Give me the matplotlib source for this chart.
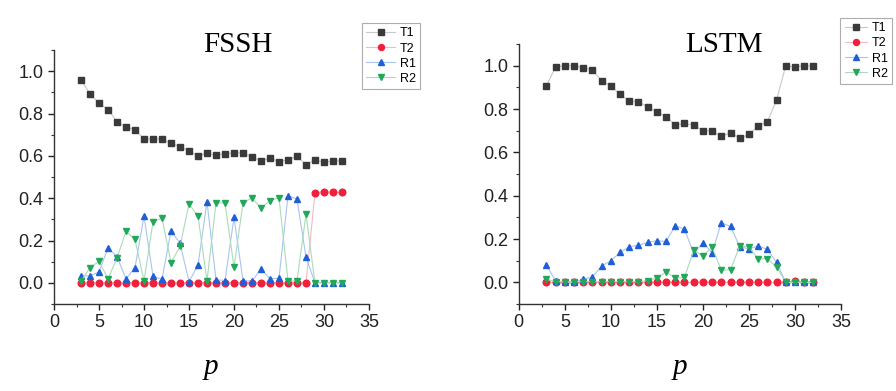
import matplotlib
matplotlib.use("Agg")
import matplotlib.pyplot as plt
from matplotlib.ticker import MultipleLocator

p = list(range(3, 33))

fssh_T1 = [0.959, 0.893, 0.849, 0.819, 0.761, 0.737, 0.724, 0.679, 0.679, 0.679,
           0.660, 0.644, 0.624, 0.600, 0.613, 0.603, 0.611, 0.614, 0.614, 0.594,
           0.578, 0.589, 0.573, 0.581, 0.597, 0.559, 0.581, 0.569, 0.576, 0.576]
fssh_T2 = [0.0] * 26 + [0.424, 0.431, 0.427, 0.427]
fssh_R1 = [0.033, 0.033, 0.052, 0.165, 0.123, 0.019, 0.072, 0.315, 0.031, 0.017,
           0.246, 0.187, 0.006, 0.083, 0.384, 0.014, 0.011, 0.309, 0.011, 0.008,
           0.066, 0.019, 0.022, 0.411, 0.397, 0.121, 0.0, 0.0, 0.0, 0.0]
fssh_R2 = [0.008, 0.072, 0.102, 0.019, 0.117, 0.244, 0.205, 0.009, 0.288, 0.306,
           0.096, 0.172, 0.373, 0.315, 0.009, 0.378, 0.378, 0.074, 0.378, 0.402,
           0.353, 0.389, 0.402, 0.009, 0.009, 0.324, 0.0, 0.0, 0.0, 0.0]

lstm_T1 = [0.908, 0.995, 1.0, 1.0, 0.992, 0.980, 0.931, 0.908, 0.868, 0.838,
           0.834, 0.811, 0.788, 0.765, 0.726, 0.734, 0.726, 0.700, 0.700, 0.674,
           0.691, 0.666, 0.683, 0.722, 0.742, 0.842, 1.0, 0.995, 1.0, 0.998]
lstm_T2 = [0.0] * 27 + [0.005, 0.0, 0.0]
lstm_R1 = [0.078, 0.008, 0.0, 0.0, 0.015, 0.025, 0.075, 0.100, 0.138, 0.165,
           0.171, 0.185, 0.192, 0.189, 0.262, 0.245, 0.134, 0.183, 0.137, 0.275,
           0.258, 0.165, 0.154, 0.169, 0.152, 0.092, 0.0, 0.0, 0.0, 0.0]
lstm_R2 = [0.014, 0.003, 0.003, 0.003, 0.003, 0.003, 0.003, 0.003, 0.003, 0.003,
           0.003, 0.008, 0.020, 0.049, 0.018, 0.023, 0.148, 0.122, 0.162, 0.057,
           0.057, 0.168, 0.163, 0.109, 0.109, 0.071, 0.0, 0.0, 0.0, 0.0]

series_names = ["T1", "T2", "R1", "R2"]
marker_colors = ["#3a3a3a", "#f0203c", "#1f5fd6", "#22a85a"]
line_colors = ["#c8c8c8", "#f6b8c4", "#a9c4ee", "#a8dcb8"]
markers = ["s", "o", "^", "v"]

plt.rcParams['font.family'] = ['Liberation Sans', 'DejaVu Sans']

fig = plt.figure(figsize=(8.96, 3.91), dpi=100)
ax1 = fig.add_axes([0.0603, 0.2225, 0.3515, 0.6495])
ax2 = fig.add_axes([0.579, 0.2225, 0.3596, 0.6645])

panels = [
    (ax1, "FSSH", [fssh_T1, fssh_T2, fssh_R1, fssh_R2], "upper left", (0.404, 0.941), 2.3, 0.265),
    (ax2, "LSTM", [lstm_T1, lstm_T2, lstm_R1, lstm_R2], "upper right", (0.996, 0.954), 1.8, 0.808),
]

for ax, title, data, leg_loc, leg_anchor, hlen, title_x in panels:
    handles = []
    for vals, name, mc, lc, mk in zip(data, series_names, marker_colors, line_colors, markers):
        h, = ax.plot(p, vals, color=lc, lw=0.8, marker=mk, markersize=4.8,
                     markerfacecolor=mc, markeredgecolor=mc, label=name)
        handles.append(h)
    ax.set_xlim(0, 35)
    ax.set_ylim(-0.1, 1.1)
    ax.xaxis.set_major_locator(MultipleLocator(5))
    ax.xaxis.set_minor_locator(MultipleLocator(2.5))
    ax.yaxis.set_minor_locator(MultipleLocator(0.1))
    ax.set_yticks([0.0, 0.2, 0.4, 0.6, 0.8, 1.0])
    ax.set_yticklabels(["0.0", "0.2", "0.4", "0.6", "0.8", "1.0"])
    for s in ["top", "right"]:
        ax.spines[s].set_visible(False)
    for s in ["left", "bottom"]:
        ax.spines[s].set_color("#333333")
        ax.spines[s].set_linewidth(1.0)
    ax.tick_params(axis="both", which="major", direction="out", length=4,
                   width=1.0, labelsize=13, colors="#222222")
    ax.tick_params(axis="both", which="minor", direction="out", length=2.5,
                   width=0.8, colors="#333333")
    fig.text(title_x, 0.885, title, ha="center", va="center",
             family=["Liberation Serif", "DejaVu Serif"], fontsize=21)
    ax.set_xlabel("p", family=["Liberation Serif", "DejaVu Serif"], style="italic",
                  fontsize=21, labelpad=16)
    leg = fig.legend(handles=handles, loc=leg_loc, bbox_to_anchor=leg_anchor,
                     bbox_transform=fig.transFigure, fontsize=9, frameon=True,
                     fancybox=False, edgecolor="#999999", handlelength=hlen,
                     handletextpad=0.4, borderpad=0.35, labelspacing=0.25,
                     borderaxespad=0.0, markerscale=0.9)
    leg.get_frame().set_linewidth(0.8)

fig.savefig("out.png", dpi=100)
